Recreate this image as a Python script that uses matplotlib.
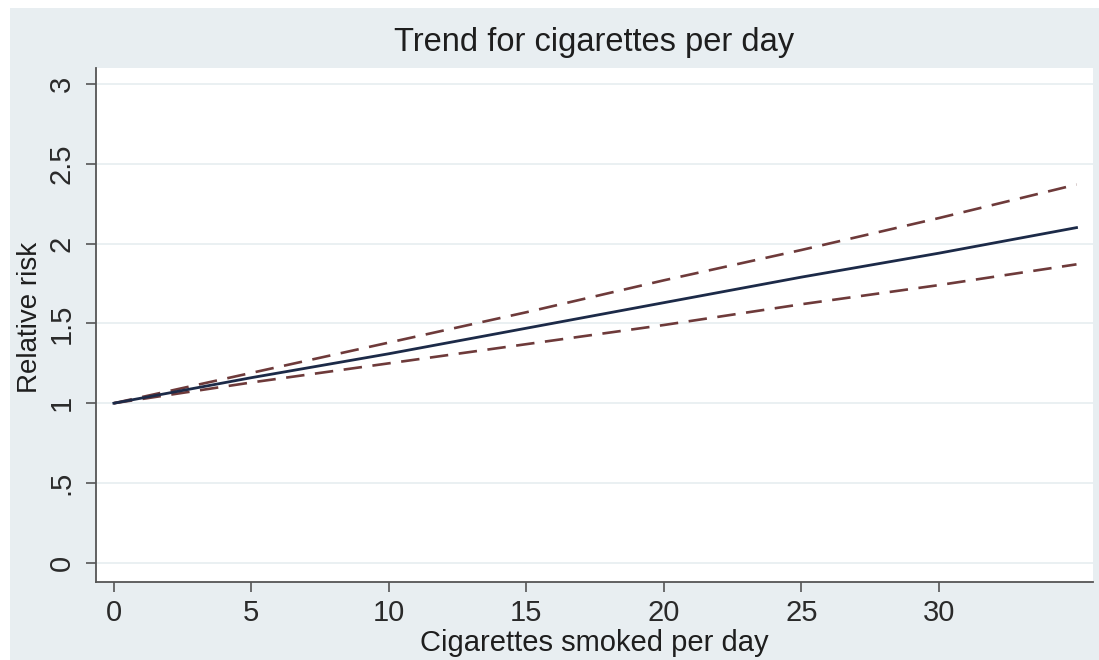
import numpy as np
import matplotlib.pyplot as plt
from matplotlib.patches import Rectangle

plt.rcParams['font.family'] = ['Liberation Sans', 'DejaVu Sans']

# relative risk trend with 95% limits, per cigarettes smoked per day
cigs = [0, 5, 10, 15, 20, 25, 30, 35]
rr = [1.00, 1.16, 1.31, 1.47, 1.63, 1.79, 1.94, 2.10]
rr_upper = [1.00, 1.19, 1.38, 1.57, 1.77, 1.96, 2.16, 2.37]
rr_lower = [1.00, 1.13, 1.25, 1.37, 1.49, 1.62, 1.74, 1.87]

xticks = [0, 5, 10, 15, 20, 25, 30]
yticks = [0, 0.5, 1, 1.5, 2, 2.5, 3]
ylabels = ['0', '.5', '1', '1.5', '2', '2.5', '3']

W, H = 1099, 660
fig = plt.figure(figsize=(W / 100, H / 100), dpi=100, facecolor='white')
# graph region background
fig.patches.append(Rectangle((10 / W, 0), 1 - 10 / W, 1 - 8 / H, transform=fig.transFigure,
                             facecolor='#e8eef1', edgecolor='none', zorder=-10))

ax = fig.add_axes([96 / W, 78 / H, (1093 - 96) / W, (582 - 68) / H])
ax.set_facecolor('white')

for y in yticks:
    ax.axhline(y, color='#e6eef0', lw=1.2, zorder=0)

ax.plot(cigs, rr_upper, color='#6e3a3a', lw=1.9, dashes=(7, 4))
ax.plot(cigs, rr_lower, color='#6e3a3a', lw=1.9, dashes=(7, 4))
ax.plot(cigs, rr, color='#1c2a48', lw=2.0)

ax.set_xlim(-0.65, 35.6)
ax.set_ylim(-0.12, 3.10)
ax.set_xticks(xticks)
ax.set_yticks(yticks)
ax.set_yticklabels(ylabels, rotation=90, va='center')

for s in ['top', 'right']:
    ax.spines[s].set_visible(False)
for s in ['left', 'bottom']:
    ax.spines[s].set_color('#555555')
    ax.spines[s].set_linewidth(1.3)

ax.tick_params(axis='both', colors='#555555', length=7.5, width=1.2, labelsize=21,
               labelcolor='#2a2a2a')
ax.tick_params(axis='x', pad=5)
ax.tick_params(axis='y', pad=7)

ax.set_title('Trend for cigarettes per day', fontsize=23.5, color='#1e1e1e', pad=12)
ax.set_xlabel('Cigarettes smoked per day', fontsize=21, color='#1e1e1e')
ax.set_ylabel('Relative risk', fontsize=20, color='#1e1e1e')
ax.xaxis.set_label_coords(0.5, -0.118)
ax.yaxis.set_label_coords(-0.066, 0.514)
ax.xaxis.label.set_va('center')
ax.yaxis.label.set_va('center')

fig.savefig('out.png', dpi=100, facecolor='white')
